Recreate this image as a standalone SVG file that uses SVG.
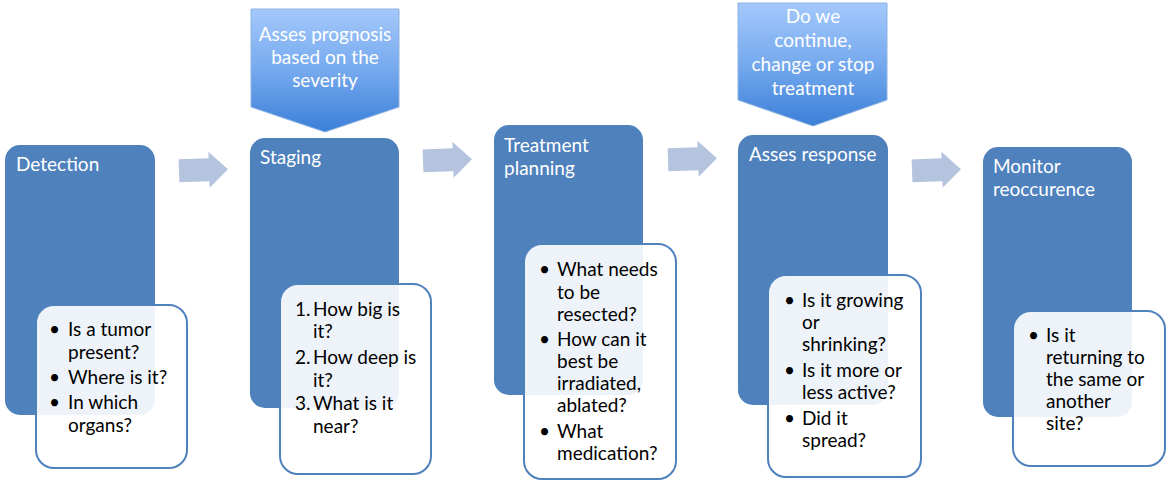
<svg xmlns="http://www.w3.org/2000/svg" width="1172" height="482" viewBox="0 0 1172 482">
<defs>
<linearGradient id="pg" x1="0" y1="0" x2="0" y2="1">
<stop offset="0" stop-color="#a4c8fb"/>
<stop offset="0.5" stop-color="#75a9ee"/>
<stop offset="1" stop-color="#3a7fd8"/>
</linearGradient>
<style>
.box{fill:#4f81bd}
.call{fill:#ffffff;fill-opacity:0.9;stroke:#4f81bd;stroke-width:2}
.pent{fill:url(#pg);stroke:#8fb2e0;stroke-width:1}
.arr{fill:#b4c4de}
.ttl{font-family:Lato,"Liberation Sans",sans-serif;font-size:19px;fill:#ffffff}
.ptx{font-family:Lato,"Liberation Sans",sans-serif;font-size:19px;fill:#ffffff;text-anchor:middle}
.bt{font-family:Lato,"Liberation Sans",sans-serif;font-size:19px;fill:#000000}
</style>
</defs>
<rect width="1172" height="482" fill="#ffffff"/>

<g id="connectors">
<path class="arr" transform="rotate(-2 203 170)" d="M179,158.5 L209,158.5 L209,152 L228,170 L209,188 L209,181.5 L179,181.5 Z"/>
<path class="arr" transform="rotate(-2 448 160)" d="M423,148.5 L453,148.5 L453,142 L472,160 L453,178 L453,171.5 L423,171.5 Z"/>
<path class="arr" transform="rotate(-2 692 159)" d="M668,147.5 L698,147.5 L698,141 L717,159 L698,177 L698,170.5 L668,170.5 Z"/>
<path class="arr" transform="rotate(-2 937 170)" d="M912,158.5 L942,158.5 L942,152 L961,170 L942,188 L942,181.5 L912,181.5 Z"/>
</g>

<g id="prognosis">
<polygon class="pent" points="251,9 399,9 399,107 325,132 251,107"/>
<text class="ptx" x="325" y="41">Asses prognosis</text>
<text class="ptx" x="325" y="64">based on the</text>
<text class="ptx" x="325" y="87">severity</text>
</g>

<g id="continue">
<polygon class="pent" points="738,3 887,3 887,100 813,126 738,100"/>
<text class="ptx" x="813" y="23">Do we</text>
<text class="ptx" x="813" y="47">continue,</text>
<text class="ptx" x="813" y="71">change or stop</text>
<text class="ptx" x="813" y="95">treatment</text>
</g>

<g id="detection">
<rect class="box" x="5" y="145" width="150" height="270" rx="15"/>
<text class="ttl" x="16" y="171">Detection</text>
<rect class="call" x="36" y="305" width="151" height="163" rx="18"/>
<g class="bt">
<text x="49" y="336">•</text><text x="68" y="336">Is a tumor</text>
<text x="68" y="359">present?</text>
<text x="49" y="384">•</text><text x="68" y="384">Where is it?</text>
<text x="49" y="409">•</text><text x="68" y="409">In which</text>
<text x="68" y="432">organs?</text>
</g>
</g>

<g id="staging">
<rect class="box" x="250" y="138" width="149" height="270" rx="15"/>
<text class="ttl" x="260" y="164">Staging</text>
<rect class="call" x="280" y="284" width="151" height="190" rx="18"/>
<g class="bt">
<text x="295" y="316">1.</text><text x="313" y="316">How big is</text>
<text x="313" y="338">it?</text>
<text x="295" y="364">2.</text><text x="313" y="364">How deep is</text>
<text x="313" y="387">it?</text>
<text x="295" y="410">3.</text><text x="313" y="410">What is it</text>
<text x="313" y="433">near?</text>
</g>
</g>

<g id="treatment">
<rect class="box" x="494" y="125" width="149" height="270" rx="15"/>
<text class="ttl" x="504" y="152">Treatment</text>
<text class="ttl" x="504" y="175">planning</text>
<rect class="call" x="524" y="244" width="152" height="235" rx="18"/>
<g class="bt">
<text x="539" y="276">•</text><text x="557" y="276">What needs</text>
<text x="557" y="299">to be</text>
<text x="557" y="321">resected?</text>
<text x="539" y="346">•</text><text x="557" y="346">How can it</text>
<text x="557" y="368">best be</text>
<text x="557" y="390">irradiated,</text>
<text x="557" y="412">ablated?</text>
<text x="539" y="438">•</text><text x="557" y="438">What</text>
<text x="557" y="460">medication?</text>
</g>
</g>

<g id="response">
<rect class="box" x="738" y="135" width="150" height="270" rx="15"/>
<text class="ttl" x="749" y="161">Asses response</text>
<rect class="call" x="768" y="275" width="153" height="202" rx="18"/>
<g class="bt">
<text x="784" y="307">•</text><text x="802" y="307">Is it growing</text>
<text x="802" y="329">or</text>
<text x="802" y="351">shrinking?</text>
<text x="784" y="377">•</text><text x="802" y="377">Is it more or</text>
<text x="802" y="399">less active?</text>
<text x="784" y="425">•</text><text x="802" y="425">Did it</text>
<text x="802" y="447">spread?</text>
</g>
</g>

<g id="monitor">
<rect class="box" x="983" y="147" width="149" height="270" rx="15"/>
<text class="ttl" x="993" y="173">Monitor</text>
<text class="ttl" x="993" y="196">reoccurence</text>
<rect class="call" x="1013" y="311" width="152" height="155" rx="18"/>
<g class="bt">
<text x="1028" y="342">•</text><text x="1046" y="342">Is it</text>
<text x="1046" y="364">returning to</text>
<text x="1046" y="386">the same or</text>
<text x="1046" y="408">another</text>
<text x="1046" y="430">site?</text>
</g>
</g>
</svg>
